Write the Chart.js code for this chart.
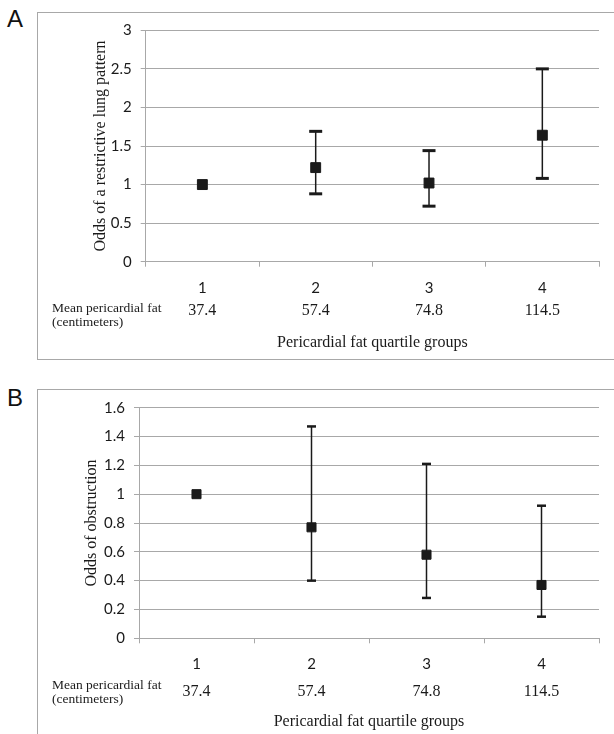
<!DOCTYPE html>
<html>
<head>
<meta charset="utf-8">
<script src="https://cdn.jsdelivr.net/npm/chart.js@4.4.1/dist/chart.umd.min.js"></script>
<style>
  html, body { margin: 0; padding: 0; background: #fff; }
  body { width: 614px; height: 734px; position: relative; overflow: hidden; }
  .panel-box { position: absolute; left: 37px; width: 620px; border: 1.5px solid #a8a8a8; }
  .panel-letter { position: absolute; left: 7px; font: 24px/1 "Liberation Sans", Arial, sans-serif; color: #111; }
  canvas { position: absolute; left: 0; }
</style>
</head>
<body>
<div class="panel-box" style="top:12px;height:346px"></div>
<div class="panel-letter" style="top:7px">A</div>
<canvas id="chartA" width="614" height="362" style="top:0"></canvas>

<div class="panel-box" style="top:389px;height:400px"></div>
<div class="panel-letter" style="top:386px">B</div>
<canvas id="chartB" width="614" height="354" style="top:380px"></canvas>

<script>
// quartile groups and mean pericardial fat per group
const quartiles = ['1', '2', '3', '4'];
const meanFat = ['37.4', '57.4', '74.8', '114.5'];

// A: odds of a restrictive lung pattern (group 1 = reference)
const restrictiveOdds = [1.0, 1.22, 1.02, 1.64];
const restrictiveLower = [null, 0.88, 0.72, 1.08];
const restrictiveUpper = [null, 1.69, 1.44, 2.50];

// B: odds of obstruction
const obstructionOdds = [1.0, 0.77, 0.58, 0.37];
const obstructionLower = [null, 0.40, 0.28, 0.15];
const obstructionUpper = [null, 1.47, 1.21, 0.92];

const GRID = '#a8a8a8';
const INK = '#1a1a1a';
const SERIF = '"Liberation Serif", "Times New Roman", serif';
const SANS = 'Lato, "Open Sans", sans-serif';

// Excel-style labels: 1 not 1.0, 2.5 stays 2.5
const shortNum = v => String(Math.round(v * 10) / 10);

function makePanel(id, p) {
  // whiskers drawn under the square markers
  const errorBars = {
    id: 'errorBars',
    beforeDatasetsDraw(chart) {
      const { ctx, scales: { x, y } } = chart;
      ctx.save();
      ctx.strokeStyle = INK;
      p.lower.forEach((lo, i) => {
        const hi = p.upper[i];
        if (lo == null || hi == null) return;
        const px = x.getPixelForValue(i);
        const yLo = y.getPixelForValue(lo);
        const yHi = y.getPixelForValue(hi);
        ctx.lineWidth = 1.5;
        ctx.beginPath();
        ctx.moveTo(px, yLo);
        ctx.lineTo(px, yHi);
        ctx.stroke();
        ctx.lineWidth = p.capThickness;
        [yLo, yHi].forEach(cy => {
          ctx.beginPath();
          ctx.moveTo(px - p.capWidth / 2, cy);
          ctx.lineTo(px + p.capWidth / 2, cy);
          ctx.stroke();
        });
      });
      ctx.restore();
    }
  };

  // second row under the category numbers
  const fatRow = {
    id: 'fatRow',
    afterDraw(chart) {
      const { ctx, chartArea, scales: { x } } = chart;
      const base = chartArea.bottom;
      ctx.save();
      ctx.fillStyle = INK;
      ctx.textBaseline = 'middle';
      ctx.textAlign = 'center';
      ctx.font = '16px ' + SERIF;
      meanFat.forEach((v, i) => ctx.fillText(v, x.getPixelForValue(i), base + p.fatDy));
      ctx.textAlign = 'left';
      ctx.font = '13.5px ' + SERIF;
      ctx.fillText('Mean pericardial fat', 52, base + 47);
      ctx.fillText('(centimeters)', 52, base + 61);
      ctx.restore();
    }
  };

  return new Chart(document.getElementById(id), {
    type: 'line',
    data: {
      labels: quartiles,
      datasets: [{
        data: p.odds,
        showLine: false,
        pointStyle: 'rect',
        pointRadius: p.pointRadius,
        pointBackgroundColor: INK,
        pointBorderColor: INK,
        pointBorderWidth: 1
      }]
    },
    options: {
      responsive: false,
      animation: false,
      layout: { padding: { top: p.top, right: 15, left: 0, bottom: 0 } },
      plugins: { legend: { display: false }, tooltip: { enabled: false } },
      scales: {
        x: {
          offset: true,
          grid: { drawOnChartArea: false, drawTicks: true, tickLength: 5, color: GRID, offset: true },
          border: { display: true, color: GRID },
          ticks: { color: INK, font: { family: SANS, size: 15 }, padding: 12 },
          title: {
            display: true,
            text: 'Pericardial fat quartile groups',
            color: INK,
            font: { family: SERIF, size: 16 },
            padding: { top: 0, bottom: p.xTitlePad }
          },
          afterFit(scale) { scale.height = p.xAxisHeight; }
        },
        y: {
          min: 0,
          max: p.yMax,
          ticks: { stepSize: p.yStep, color: INK, font: { family: SANS, size: 15 }, padding: 9, callback: shortNum },
          grid: { color: GRID, tickLength: 5 },
          border: { display: true, color: GRID },
          title: {
            display: true,
            text: p.yTitle,
            color: INK,
            font: { family: SERIF, size: 16 },
            padding: { top: p.yTitlePad, bottom: 0 }
          },
          afterFit(scale) { scale.width = p.yAxisWidth; }
        }
      }
    },
    plugins: [errorBars, fatRow]
  });
}

makePanel('chartA', {
  odds: restrictiveOdds, lower: restrictiveLower, upper: restrictiveUpper,
  yMax: 3, yStep: 0.5, yTitle: 'Odds of a restrictive lung pattern',
  top: 30.3, yAxisWidth: 145.7, xAxisHeight: 100.3, xTitlePad: 9.4, yTitlePad: 91.4,
  fatDy: 49.5, capWidth: 13, capThickness: 3, pointRadius: 7
});

makePanel('chartB', {
  odds: obstructionOdds, lower: obstructionLower, upper: obstructionUpper,
  yMax: 1.6, yStep: 0.2, yTitle: 'Odds of obstruction',
  top: 27.7, yAxisWidth: 139, xAxisHeight: 95.7, xTitlePad: 2.4, yTitlePad: 82.4,
  fatDy: 53.5, capWidth: 9, capThickness: 2.5, pointRadius: 6.4
});
</script>
</body>
</html>
